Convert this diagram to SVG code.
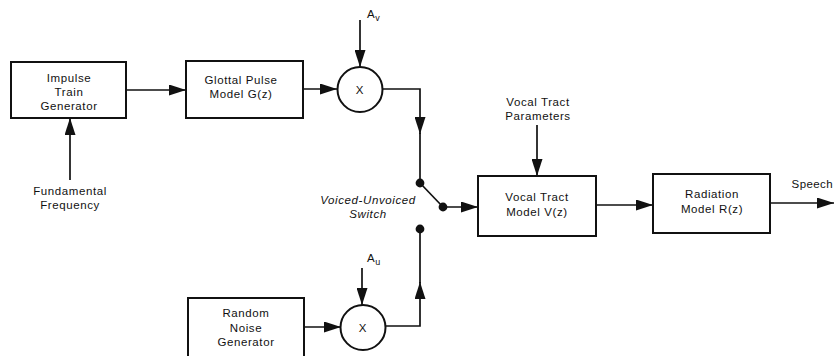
<svg xmlns="http://www.w3.org/2000/svg" width="834" height="356" viewBox="0 0 834 356">
<defs>
<style>
.box{fill:#fff;stroke:#111;stroke-width:2}
.ln{fill:none;stroke:#111;stroke-width:1.7}
.arr{marker-end:url(#ah)}
.t{font-family:"Liberation Sans",Arial,sans-serif;font-size:11.5px;letter-spacing:0.6px;fill:#111;text-anchor:middle}
.it{font-style:italic}
.dot{fill:#111}
</style>
<marker id="ah" markerUnits="userSpaceOnUse" markerWidth="17" markerHeight="11" refX="17" refY="5.5" orient="auto">
<path d="M0,0 L17,5.5 L0,11 z" fill="#111"/>
</marker>
</defs>
<rect width="834" height="356" fill="#fff"/>
<g id="connectors">
<path class="ln arr" d="M126,90 L186,90"/>
<path class="ln arr" d="M70,180 L70,118"/>
<path class="ln arr" d="M303,89 L337,89"/>
<path class="ln arr" d="M360,20 L360,67"/>
<path class="ln arr" d="M383,89 H420 V134"/>
<path class="ln" d="M420,133 V183"/>
<path class="ln" d="M420,183 L443,207"/>
<path class="ln arr" d="M443,207 L478,207"/>
<path class="ln arr" d="M537,125 L537,176"/>
<path class="ln arr" d="M596,205 L653,205"/>
<path class="ln arr" d="M770,203 L834,203"/>
<path class="ln arr" d="M304,327 L341,327"/>
<path class="ln arr" d="M362,268 L362,305"/>
<path class="ln arr" d="M386,326 H420 V282"/>
<path class="ln" d="M420,283 V229"/>
</g>
<g id="impulse">
<rect class="box" x="11" y="62" width="115" height="56"/>
<text class="t" x="69" y="82">Impulse</text>
<text class="t" x="69" y="96">Train</text>
<text class="t" x="69" y="110">Generator</text>
</g>
<g id="fundamental">
<text class="t" x="70" y="195">Fundamental</text>
<text class="t" x="70" y="209">Frequency</text>
</g>
<g id="glottal">
<rect class="box" x="186" y="61" width="117" height="57"/>
<text class="t" x="241" y="84">Glottal Pulse</text>
<text class="t" x="241" y="98">Model G(z)</text>
</g>
<g id="mult-voiced">
<circle class="box" cx="360" cy="89.5" r="22.5"/>
<text class="t" x="360" y="94">X</text>
</g>
<g id="av">
<text class="t" x="367" y="18" style="text-anchor:start">A<tspan font-size="9" dy="3">v</tspan></text>
</g>
<g id="switch">
<circle class="dot" cx="420" cy="183" r="4.4"/>
<circle class="dot" cx="443" cy="207" r="4.4"/>
<circle class="dot" cx="420" cy="229" r="4.4"/>
<text class="t it" x="368" y="204">Voiced-Unvoiced</text>
<text class="t it" x="368" y="218">Switch</text>
</g>
<g id="vt-params">
<text class="t" x="538" y="106">Vocal Tract</text>
<text class="t" x="538" y="120">Parameters</text>
</g>
<g id="vocal-tract">
<rect class="box" x="478" y="176" width="118" height="60"/>
<text class="t" x="537" y="201">Vocal Tract</text>
<text class="t" x="537" y="216">Model V(z)</text>
</g>
<g id="radiation">
<rect class="box" x="653" y="174" width="117" height="59"/>
<text class="t" x="712" y="198">Radiation</text>
<text class="t" x="712" y="213">Model R(z)</text>
</g>
<g id="speech">
<text class="t" x="833" y="188" style="text-anchor:end;letter-spacing:0.4px">Speech</text>
</g>
<g id="noise">
<rect class="box" x="188" y="298" width="116" height="70"/>
<text class="t" x="246" y="317">Random</text>
<text class="t" x="246" y="332">Noise</text>
<text class="t" x="246" y="346">Generator</text>
</g>
<g id="mult-unvoiced">
<circle class="box" cx="363" cy="327.5" r="22.5"/>
<text class="t" x="363" y="332">X</text>
</g>
<g id="au">
<text class="t" x="367" y="262" style="text-anchor:start">A<tspan font-size="9" dy="3">u</tspan></text>
</g>
</svg>
